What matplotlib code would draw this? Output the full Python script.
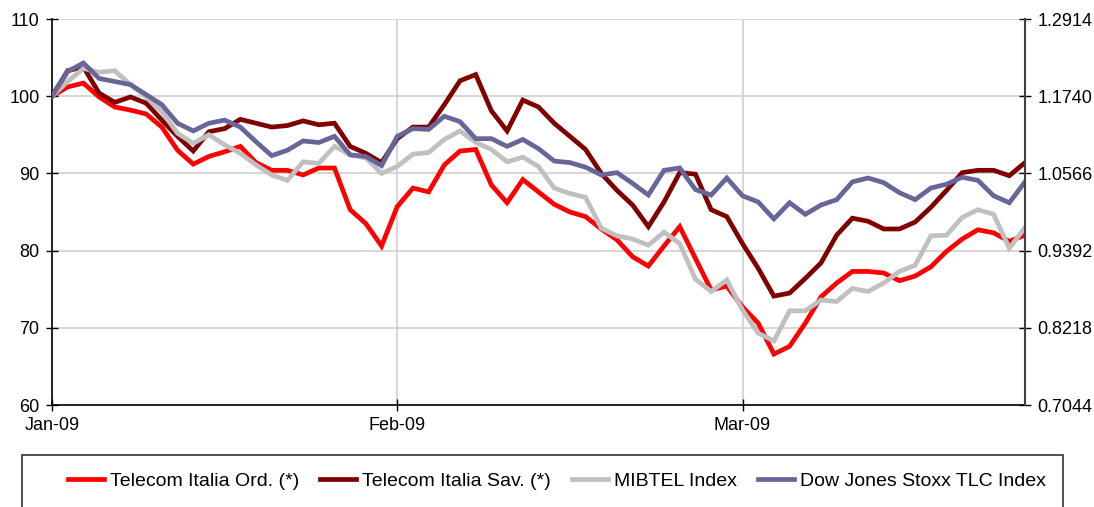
import numpy as np
import matplotlib
matplotlib.use("Agg")
import matplotlib.pyplot as plt
from matplotlib.patches import Rectangle

plt.rcParams['font.family'] = ['Liberation Sans', 'DejaVu Sans']

# rebased to 100 at start of January 2009, one value per trading day
tit_ord = [100, 101.2, 101.7, 99.9, 98.6, 98.2, 97.7, 96.0, 93.0, 91.2, 92.2, 92.8, 93.5,
           91.4, 90.4, 90.4, 89.8, 90.7, 90.7, 85.3, 83.5, 80.6, 85.7, 88.1, 87.6, 91.1,
           92.9, 93.1, 88.5, 86.2, 89.2, 87.6, 86.0, 85.0, 84.4, 82.8, 81.4, 79.2, 78.0,
           80.6, 83.1, 79.0, 74.9, 75.4, 72.7, 70.6, 66.6, 67.6, 70.6, 74.0, 75.8, 77.3,
           77.3, 77.1, 76.1, 76.7, 77.9, 79.9, 81.5, 82.7, 82.3, 81.2, 82.0]
tit_sav = [100, 103.3, 103.8, 100.4, 99.2, 99.9, 99.1, 96.9, 94.8, 92.9, 95.4, 95.8, 97.0,
           96.5, 96.0, 96.2, 96.8, 96.3, 96.5, 93.5, 92.6, 91.4, 94.5, 96.0, 96.0, 98.9,
           102.0, 102.8, 98.1, 95.5, 99.5, 98.6, 96.5, 94.8, 93.1, 90.0, 87.8, 85.9, 83.1,
           86.3, 90.1, 89.9, 85.3, 84.4, 80.9, 77.7, 74.1, 74.5, 76.4, 78.4, 82.0, 84.2,
           83.8, 82.8, 82.8, 83.7, 85.6, 87.8, 90.1, 90.4, 90.4, 89.7, 91.4]
mibtel = [100, 101.9, 103.6, 103.1, 103.3, 101.5, 99.9, 98.0, 95.2, 93.9, 95.0, 93.7, 92.6,
          91.1, 89.8, 89.1, 91.5, 91.3, 93.5, 92.4, 92.0, 90.0, 90.9, 92.5, 92.7, 94.4,
          95.5, 94.0, 93.1, 91.5, 92.1, 90.9, 88.1, 87.4, 86.9, 82.9, 81.9, 81.5, 80.7,
          82.4, 80.9, 76.3, 74.7, 76.2, 72.3, 69.3, 68.3, 72.2, 72.2, 73.6, 73.4, 75.1,
          74.7, 75.8, 77.3, 78.1, 81.9, 82.0, 84.3, 85.3, 84.7, 80.3, 83.0]
dj_tlc = [100, 103.2, 104.3, 102.3, 101.9, 101.5, 100.2, 98.9, 96.5, 95.5, 96.5, 96.9, 96.0,
          94.1, 92.3, 93.0, 94.2, 94.0, 94.8, 92.4, 92.2, 91.0, 94.8, 95.8, 95.7, 97.4,
          96.7, 94.5, 94.5, 93.5, 94.4, 93.2, 91.6, 91.4, 90.8, 89.8, 90.1, 88.7, 87.2,
          90.4, 90.7, 87.9, 87.2, 89.4, 87.1, 86.3, 84.1, 86.2, 84.7, 85.9, 86.6, 88.9,
          89.4, 88.8, 87.5, 86.6, 88.1, 88.6, 89.5, 89.1, 87.1, 86.2, 88.9]

names = ["Telecom Italia Ord. (*)", "Telecom Italia Sav. (*)", "MIBTEL Index",
         "Dow Jones Stoxx TLC Index"]
colors = ["#ff0000", "#800000", "#c0c0c0", "#666699"]
month_pos = [0, 22, 44]
month_labels = ["Jan-09", "Feb-09", "Mar-09"]
right_ticks = [0.7044, 0.8218, 0.9392, 1.0566, 1.1740, 1.2914]

W, H = 1094, 507
fig = plt.figure(figsize=(W / 100, H / 100), dpi=100)
ax = fig.add_axes([52 / W, 1 - 405 / H, (1025 - 52) / W, (405 - 19) / H])

x = np.arange(len(tit_ord))
for y, c, n in zip([tit_ord, tit_sav, mibtel, dj_tlc], colors, names):
    ax.plot(x, y, color=c, lw=3.4, label=n, solid_joinstyle='miter', zorder=3)

ax.set_xlim(0, len(tit_ord) - 1)
ax.set_ylim(60, 110)
ax.set_yticks(range(60, 111, 10))
ax.set_xticks(month_pos)
ax.set_xticklabels(month_labels)
ax.grid(True, color="#d0d0d0", lw=1.2)
ax.tick_params(axis='both', direction='inout', length=8, width=1, labelsize=13, colors='black')
ax.tick_params(axis='x', pad=5)
ax.tick_params(axis='y', pad=5)
ax.spines['top'].set_visible(False)
ax.spines['right'].set_visible(False)
for s in ['left', 'bottom']:
    ax.spines[s].set_linewidth(1.2)

ax2 = ax.twinx()
ax2.set_ylim(0.7044, 1.2914)
ax2.set_yticks(right_ticks)
ax2.set_yticklabels(['%.4f' % t for t in right_ticks])
ax2.tick_params(axis='y', direction='inout', length=8, width=1, labelsize=13, pad=5,
                colors='black')
ax2.spines['right'].set_color('#404040')
ax2.spines['right'].set_linewidth(1.5)
for s in ['left', 'top', 'bottom']:
    ax2.spines[s].set_visible(False)

# legend frame runs off the bottom of the picture
fig.patches.append(Rectangle((22 / W, -0.2), (1063 - 22) / W, 0.2 + 1 - 455 / H,
                             transform=fig.transFigure, fill=False, edgecolor='#333333',
                             lw=1.2, clip_on=False))
handles, labels = ax.get_legend_handles_labels()
fig.legend(handles, labels, loc='center', bbox_to_anchor=(557 / W, 1 - 481 / H),
           ncol=4, frameon=False, fontsize=14, handlelength=1.85, handletextpad=0.3,
           columnspacing=1.1, borderaxespad=0)

fig.savefig("out.png", dpi=100)
